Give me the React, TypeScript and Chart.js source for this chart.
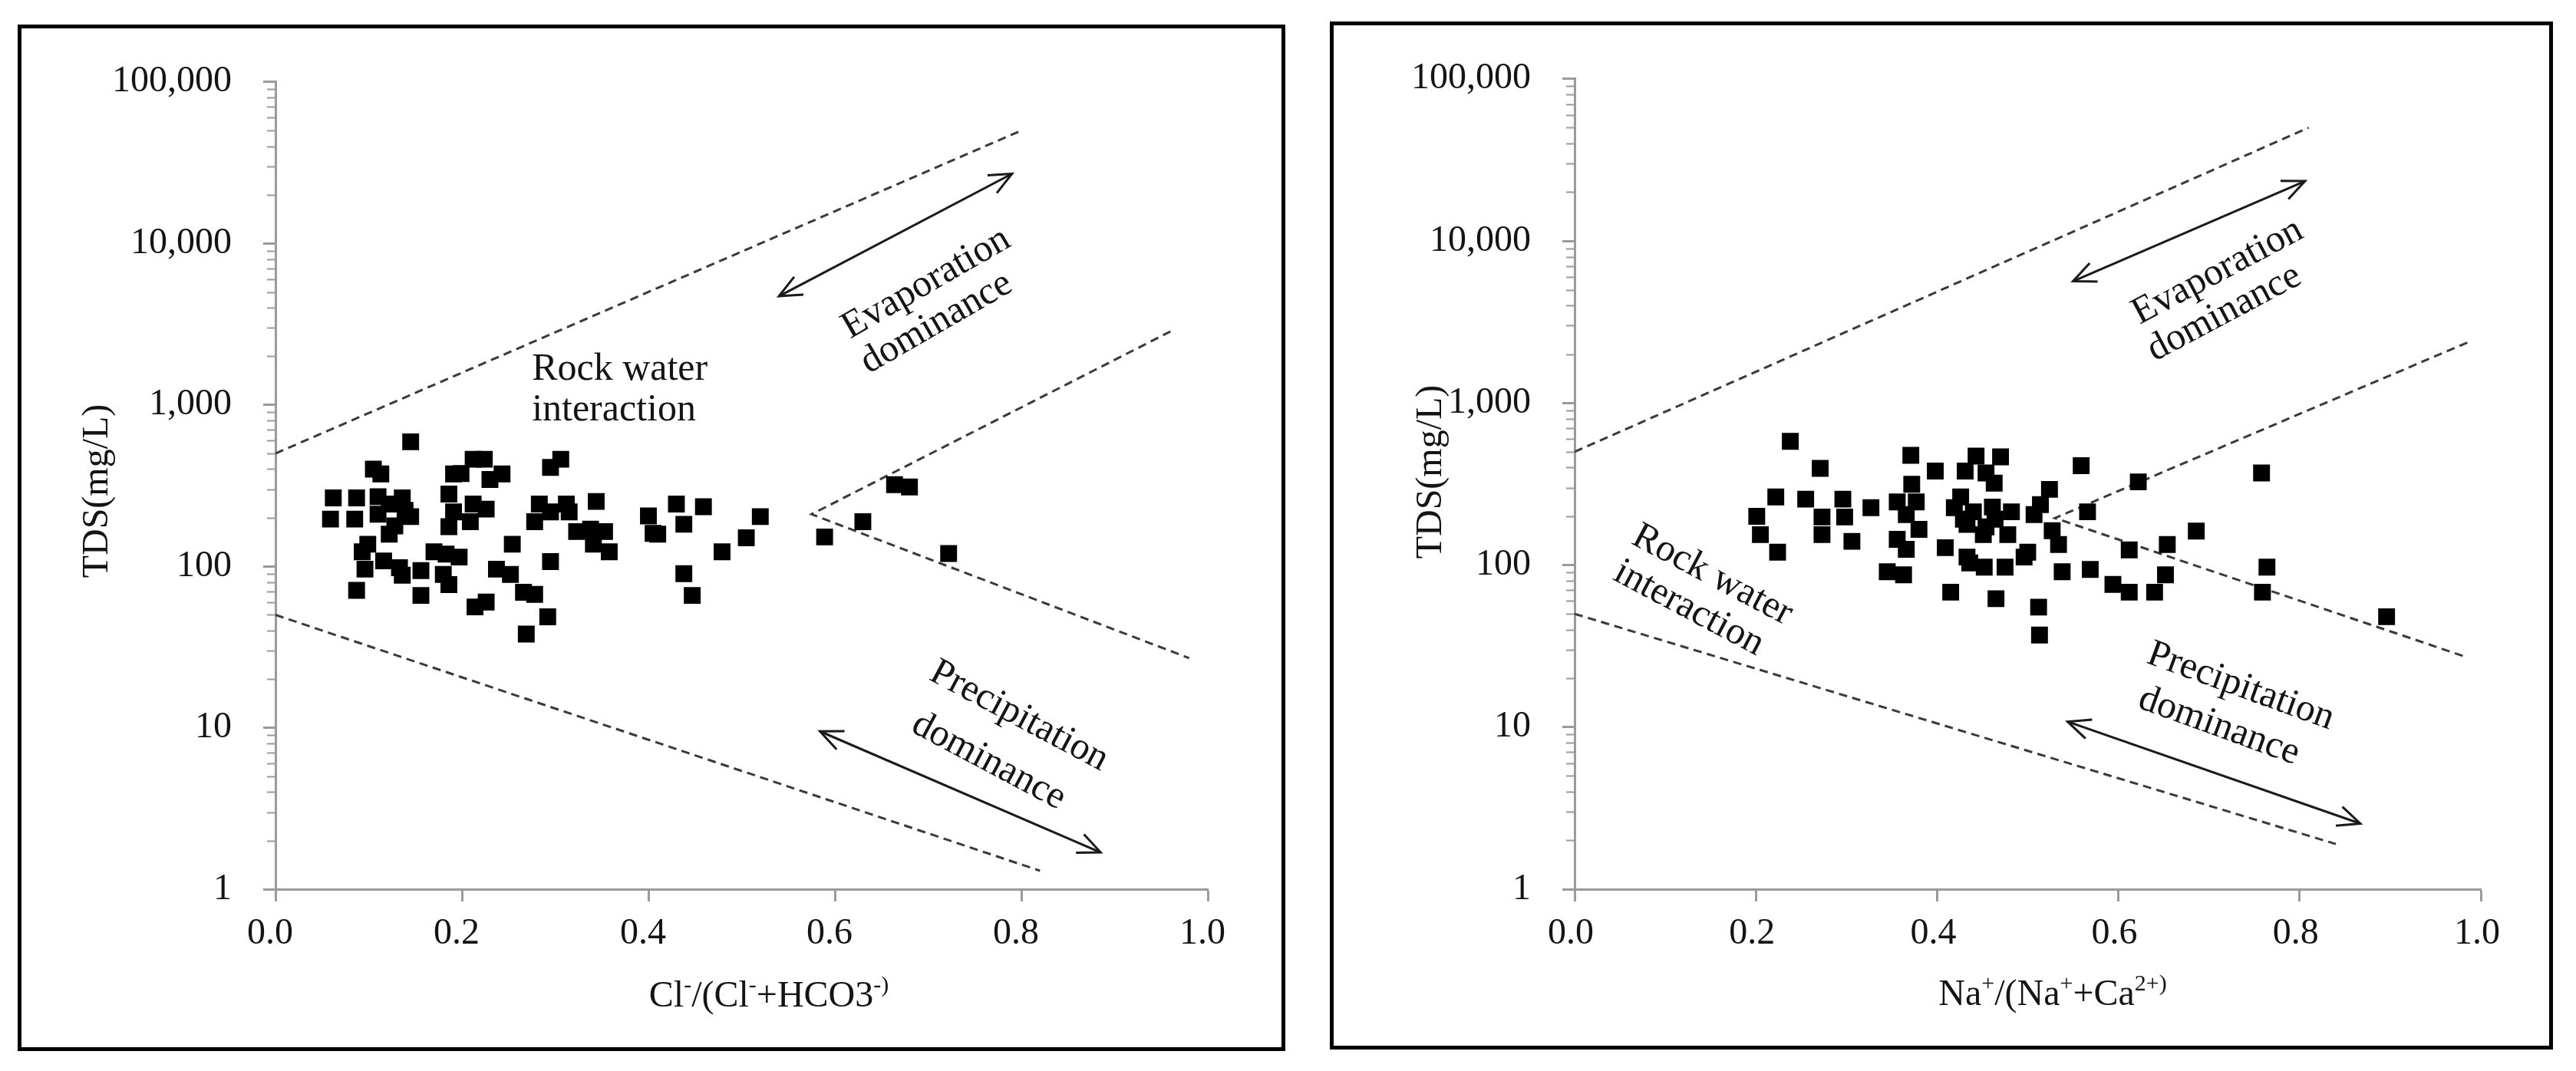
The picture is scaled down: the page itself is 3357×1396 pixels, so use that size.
import React, { useEffect, useRef } from 'react';
import { Chart, registerables } from 'chart.js';

Chart.register(...registerables);

const SERIF = '"Liberation Serif", "Times New Roman", Times, serif';
const AXIS_GRAY = '#9a9a9a';
const TEXT = '#141414';

// ---------- axis ticks ----------
const yMajorTicks = [1, 10, 100, 1000, 10000, 100000];
const yTickLabels = ['1', '10', '100', '1,000', '10,000', '100,000'];
const xTicks = [0, 0.2, 0.4, 0.6, 0.8, 1.0];
const xTickLabels = ['0.0', '0.2', '0.4', '0.6', '0.8', '1.0'];

// ---------- left panel: Cl-/(Cl-+HCO3-) vs TDS ----------
const leftRatio = [
  0.062, 0.059, 0.087, 0.085, 0.087, 0.105, 0.113, 0.110, 0.110, 0.122,
  0.099, 0.093, 0.096, 0.116, 0.133, 0.136, 0.122, 0.128, 0.136, 0.139,
  0.145, 0.145, 0.156, 0.156, 0.170, 0.183, 0.197, 0.180, 0.186, 0.186,
  0.191, 0.186, 0.191, 0.212, 0.224, 0.230, 0.243, 0.212, 0.226, 0.209,
  0.214, 0.226, 0.237, 0.252, 0.254, 0.266, 0.278, 0.269, 0.292, 0.295,
  0.278, 0.283, 0.295, 0.295, 0.306, 0.312, 0.315, 0.323, 0.344, 0.338,
  0.353, 0.341, 0.358, 0.400, 0.405, 0.410, 0.430, 0.438, 0.438, 0.447,
  0.459, 0.479, 0.505, 0.520, 0.589, 0.630, 0.664, 0.680, 0.722, 0.199,
];
const leftTDS = [
  265, 196, 265, 196, 71, 400, 373, 270, 210, 243,
  137, 123, 96, 108, 98, 88, 158, 178, 265, 222,
  203, 590, 94, 66, 123, 119, 114, 89, 77, 176,
  217, 280, 373, 460, 460, 345, 373, 243, 226, 189,
  56, 60, 96, 89, 137, 69, 67, 38, 48.6, 107,
  189, 243, 217, 410, 460, 243, 217, 164, 252, 170,
  164, 137, 123, 205, 160, 158, 243, 182, 90, 66,
  234, 123, 150, 203, 152, 189, 320, 310, 120, 375,
];

// Gibbs boundary lines (left)
const leftUpperX = [0, 0.8];
const leftUpperY = [500, 50000];
const leftLowerX = [0, 0.82];
const leftLowerY = [50, 1.3];
const leftVX = [0.96, 0.575, 0.98];
const leftVY = [2850, 210, 27];
// arrows (left)
const leftEvapArrowX = [0.54, 0.79];
const leftEvapArrowY = [4710, 27000];
const leftPrecArrowX = [0.584, 0.885];
const leftPrecArrowY = [9.5, 1.69];

// ---------- right panel: Na+/(Na++Ca2+) vs TDS ----------
const rightRatio = [
  0.238, 0.371, 0.443, 0.470, 0.271, 0.398, 0.431, 0.454, 0.463, 0.559,
  0.622, 0.758, 0.524, 0.372, 0.222, 0.255, 0.296, 0.327, 0.298, 0.273,
  0.201, 0.205, 0.224, 0.273, 0.306, 0.356, 0.377, 0.366, 0.380, 0.356,
  0.366, 0.345, 0.363, 0.409, 0.415, 0.426, 0.419, 0.429, 0.440, 0.433,
  0.454, 0.461, 0.451, 0.464, 0.482, 0.478, 0.433, 0.436, 0.452, 0.475,
  0.496, 0.500, 0.465, 0.507, 0.514, 0.512, 0.513, 0.527, 0.534, 0.538,
  0.566, 0.569, 0.594, 0.612, 0.612, 0.640, 0.654, 0.652, 0.686, 0.764,
  0.759, 0.896,
];
const rightTDS = [
  580, 475, 470, 465, 395, 380, 380, 370, 320, 410,
  326, 370, 293, 315, 263, 255, 255, 226, 198, 198,
  200, 154, 120, 154, 140, 245, 245, 205, 166, 144,
  125, 91, 87, 128, 68, 263, 226, 192, 213, 178,
  172, 228, 154, 192, 213, 154, 112, 103, 97, 97,
  112, 120, 62, 205, 236, 55, 37, 163, 134, 91,
  213, 94, 76, 68, 124, 68, 134, 87, 162, 97,
  68, 48,
];

const rightUpperX = [0, 0.81];
const rightUpperY = [500, 50000];
const rightLowerX = [0, 0.84];
const rightLowerY = [50, 1.9];
const rightVX = [0.985, 0.53, 0.982];
const rightVY = [2360, 195, 27.3];
const rightEvapArrowX = [0.55, 0.806];
const rightEvapArrowY = [5640, 23400];
const rightPrecArrowX = [0.544, 0.867];
const rightPrecArrowY = [10.8, 2.54];

type Seg = { t: string; sup?: boolean };
type Note = { text: string; x: number; y: number; angle: number; align: CanvasTextAlign };

const leftNotes: Note[] = [
  { text: 'Rock water', x: 0.275, y: 1648, angle: 0, align: 'left' },
  { text: 'interaction', x: 0.275, y: 924, angle: 0, align: 'left' },
  { text: 'Evaporation', x: 0.698, y: 5650, angle: -30, align: 'center' },
  { text: 'dominance', x: 0.709, y: 3206, angle: -30, align: 'center' },
  { text: 'Precipitation', x: 0.7975, y: 11.8, angle: 28, align: 'center' },
  { text: 'dominance', x: 0.765, y: 6.19, angle: 28, align: 'center' },
];
const rightNotes: Note[] = [
  { text: 'Evaporation', x: 0.7096, y: 6440, angle: -28, align: 'center' },
  { text: 'dominance', x: 0.717, y: 3584, angle: -28, align: 'center' },
  { text: 'Precipitation', x: 0.735, y: 17.8, angle: 20, align: 'center' },
  { text: 'dominance', x: 0.711, y: 10.1, angle: 20, align: 'center' },
  { text: 'Rock water', x: 0.152, y: 86.5, angle: 28, align: 'center' },
  { text: 'interaction', x: 0.126, y: 54, angle: 28, align: 'center' },
];

const leftXTitle: Seg[] = [
  { t: 'Cl' }, { t: '-', sup: true }, { t: '/(Cl' }, { t: '-', sup: true }, { t: '+HCO3' }, { t: '-)', sup: true },
];
const rightXTitle: Seg[] = [
  { t: 'Na' }, { t: '+', sup: true }, { t: '/(Na' }, { t: '+', sup: true }, { t: '+Ca' }, { t: '2+)', sup: true },
];
const yTitle = 'TDS(mg/L)';

type Spec = {
  box: { left: number; top: number; width: number; height: number };
  area: { left: number; top: number; right: number; bottom: number };
  ptsX: number[];
  ptsY: number[];
  dashed: { x: number[]; y: number[] }[];
  arrows: { x: number[]; y: number[] }[];
  notes: Note[];
  xTitle: Seg[];
  xTitlePos: { x: number; y: number };
  yTitlePos: { x: number; y: number };
  labelOffset: number;
};

const leftSpec: Spec = {
  box: { left: 23, top: 32, width: 1652, height: 1338 },
  area: { left: 331, top: 48, right: 1546, bottom: 1122 },
  ptsX: leftRatio,
  ptsY: leftTDS,
  dashed: [
    { x: leftUpperX, y: leftUpperY },
    { x: leftLowerX, y: leftLowerY },
    { x: leftVX, y: leftVY },
  ],
  arrows: [
    { x: leftEvapArrowX, y: leftEvapArrowY },
    { x: leftPrecArrowX, y: leftPrecArrowY },
  ],
  notes: leftNotes,
  xTitle: leftXTitle,
  xTitlePos: { x: 974, y: 1275 },
  yTitlePos: { x: 112, y: 603 },
  labelOffset: -7,
};

const rightSpec: Spec = {
  box: { left: 1733, top: 28, width: 1594, height: 1340 },
  area: { left: 314, top: 47, right: 1495, bottom: 1126 },
  ptsX: rightRatio,
  ptsY: rightTDS,
  dashed: [
    { x: rightUpperX, y: rightUpperY },
    { x: rightLowerX, y: rightLowerY },
    { x: rightVX, y: rightVY },
  ],
  arrows: [
    { x: rightEvapArrowX, y: rightEvapArrowY },
    { x: rightPrecArrowX, y: rightPrecArrowY },
  ],
  notes: rightNotes,
  xTitle: rightXTitle,
  xTitlePos: { x: 937, y: 1277 },
  yTitlePos: { x: 140, y: 582 },
  labelOffset: -5,
};

const zip = (xs: number[], ys: number[]) => xs.map((x, i) => ({ x, y: ys[i] }));

function drawRich(ctx: CanvasRenderingContext2D, segs: Seg[], cx: number, by: number) {
  const main = `48px ${SERIF}`;
  const sup = `30px ${SERIF}`;
  let total = 0;
  for (const s of segs) {
    ctx.font = s.sup ? sup : main;
    total += ctx.measureText(s.t).width;
  }
  let x = cx - total / 2;
  ctx.textAlign = 'left';
  ctx.textBaseline = 'alphabetic';
  for (const s of segs) {
    ctx.font = s.sup ? sup : main;
    ctx.fillText(s.t, x, s.sup ? by - 19 : by);
    x += ctx.measureText(s.t).width;
  }
}

function Panel({ spec }: { spec: Spec }) {
  const ref = useRef<HTMLCanvasElement | null>(null);
  const W = spec.box.width - 10;
  const H = spec.box.height - 10;

  useEffect(() => {
    const canvas = ref.current;
    if (!canvas) return;
    const { area } = spec;

    const minorTicks: number[] = [];
    for (let i = 0; i < yMajorTicks.length - 1; i++) {
      for (let k = 2; k <= 9; k++) minorTicks.push(yMajorTicks[i] * k);
    }
    const allYTicks = [...yMajorTicks, ...minorTicks].sort((a, b) => a - b);

    const nDashed = spec.dashed.length;
    const arrowStart = 1 + nDashed;

    const datasets: any[] = [
      {
        type: 'scatter',
        data: zip(spec.ptsX, spec.ptsY),
        pointStyle: 'rect',
        pointRadius: 15.5,
        pointHoverRadius: 15.5,
        backgroundColor: '#000',
        borderColor: '#000',
        borderWidth: 0,
        order: 0,
      },
      ...spec.dashed.map((d) => ({
        type: 'line',
        data: zip(d.x, d.y),
        borderColor: '#3a3a3a',
        borderWidth: 3,
        borderDash: [11, 7],
        pointRadius: 0,
        fill: false,
        tension: 0,
        order: 2,
      })),
      ...spec.arrows.map((d) => ({
        type: 'line',
        data: zip(d.x, d.y),
        borderColor: '#1a1a1a',
        borderWidth: 3,
        pointRadius: 0,
        fill: false,
        tension: 0,
        order: 2,
      })),
    ];

    const overlay = {
      id: 'overlay',
      afterDatasetsDraw(chart: any) {
        const ctx: CanvasRenderingContext2D = chart.ctx;
        const xs = chart.scales.x;
        const ys = chart.scales.y;
        ctx.save();
        // minor ticks on the log axis
        ctx.strokeStyle = AXIS_GRAY;
        ctx.lineWidth = 2;
        for (const v of minorTicks) {
          const py = Math.round(ys.getPixelForValue(v)) + 0.5;
          ctx.beginPath();
          ctx.moveTo(chart.chartArea.left - 11, py);
          ctx.lineTo(chart.chartArea.left, py);
          ctx.stroke();
        }
        // arrow heads
        ctx.strokeStyle = '#1a1a1a';
        ctx.lineWidth = 3;
        const L = 32;
        const spread = (24 * Math.PI) / 180;
        for (let i = 0; i < spec.arrows.length; i++) {
          const meta = chart.getDatasetMeta(arrowStart + i);
          const p0 = meta.data[0];
          const p1 = meta.data[1];
          const heads = [
            { tip: p1, ang: Math.atan2(p1.y - p0.y, p1.x - p0.x) },
            { tip: p0, ang: Math.atan2(p0.y - p1.y, p0.x - p1.x) },
          ];
          for (const h of heads) {
            ctx.beginPath();
            ctx.moveTo(h.tip.x - L * Math.cos(h.ang - spread), h.tip.y - L * Math.sin(h.ang - spread));
            ctx.lineTo(h.tip.x, h.tip.y);
            ctx.lineTo(h.tip.x - L * Math.cos(h.ang + spread), h.tip.y - L * Math.sin(h.ang + spread));
            ctx.stroke();
          }
        }
        // annotation texts
        ctx.fillStyle = TEXT;
        ctx.font = `50px ${SERIF}`;
        ctx.textBaseline = 'middle';
        for (const n of spec.notes) {
          const px = xs.getPixelForValue(n.x);
          const py = ys.getPixelForValue(n.y);
          ctx.save();
          ctx.translate(px, py);
          ctx.rotate((n.angle * Math.PI) / 180);
          ctx.textAlign = n.align;
          ctx.fillText(n.text, 0, 0);
          ctx.restore();
        }
        // axis titles
        ctx.fillStyle = TEXT;
        drawRich(ctx, spec.xTitle, spec.xTitlePos.x, spec.xTitlePos.y);
        ctx.save();
        ctx.translate(spec.yTitlePos.x, spec.yTitlePos.y);
        ctx.rotate(-Math.PI / 2);
        ctx.font = `48px ${SERIF}`;
        ctx.textAlign = 'center';
        ctx.textBaseline = 'alphabetic';
        ctx.fillText(yTitle, 0, 0);
        ctx.restore();
        ctx.restore();
      },
    };

    const chart = new Chart(canvas, {
      type: 'scatter',
      data: { datasets },
      options: {
        animation: false,
        responsive: false,
        maintainAspectRatio: false,
        devicePixelRatio: 1,
        events: [],
        layout: { padding: { left: 0, top: area.top, right: W - area.right, bottom: 0 } },
        plugins: {
          legend: { display: false },
          tooltip: { enabled: false },
          title: { display: false },
        },
        scales: {
          x: {
            type: 'linear',
            min: 0,
            max: 1,
            afterBuildTicks: (s: any) => {
              s.ticks = xTicks.map((v) => ({ value: v }));
            },
            afterFit: (s: any) => {
              s.height = H - area.bottom;
            },
            ticks: {
              autoSkip: false,
              maxRotation: 0,
              padding: 14,
              labelOffset: spec.labelOffset,
              color: TEXT,
              font: { family: SERIF, size: 48 },
              callback: (_v: any, i: number) => xTickLabels[i],
            },
            grid: {
              drawOnChartArea: false,
              drawTicks: true,
              tickLength: 16,
              tickColor: AXIS_GRAY,
              tickWidth: 3,
            },
            border: { display: true, color: AXIS_GRAY, width: 3 },
          },
          y: {
            type: 'logarithmic',
            min: 1,
            max: 100000,
            afterBuildTicks: (s: any) => {
              s.ticks = allYTicks.map((v) => ({ value: v, major: yMajorTicks.includes(v) }));
            },
            afterFit: (s: any) => {
              s.width = area.left;
            },
            ticks: {
              autoSkip: false,
              padding: 41,
              color: TEXT,
              font: { family: SERIF, size: 48 },
              callback: (v: any) => {
                const i = yMajorTicks.indexOf(Number(v));
                return i >= 0 ? yTickLabels[i] : '';
              },
            },
            grid: {
              drawOnChartArea: false,
              drawTicks: true,
              tickLength: 16,
              tickWidth: 3,
              tickColor: (c: any) => (c.tick && c.tick.major ? AXIS_GRAY : 'rgba(0,0,0,0)'),
            },
            border: { display: true, color: AXIS_GRAY, width: 3 },
          },
        },
      } as any,
      plugins: [overlay],
    } as any);

    return () => chart.destroy();
  }, []);

  return (
    <div
      style={{
        position: 'absolute',
        left: spec.box.left,
        top: spec.box.top,
        width: spec.box.width,
        height: spec.box.height,
        border: '5px solid #000',
        boxSizing: 'border-box',
        background: '#fff',
      }}
    >
      <canvas ref={ref} width={W} height={H} style={{ display: 'block', width: W, height: H }} />
    </div>
  );
}

export default function App() {
  return (
    <div style={{ position: 'absolute', left: 0, top: 0, width: 3357, height: 1396, background: '#fff' }}>
      <Panel spec={leftSpec} />
      <Panel spec={rightSpec} />
    </div>
  );
}
